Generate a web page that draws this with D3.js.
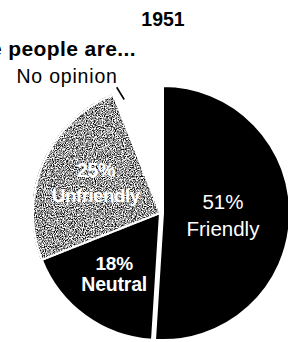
<!DOCTYPE html>
<html>
<head>
<meta charset="utf-8">
<script src="https://cdn.jsdelivr.net/npm/d3@7"></script>
<style>
  html, body { margin: 0; padding: 0; background: #fff; overflow: hidden; }
  svg { display: block; font-family: "Liberation Sans", Arial, Helvetica, sans-serif; }
</style>
</head>
<body>
<svg id="chart" width="288" height="342"></svg>
<script>
// ---- data ----
const categories = ["Friendly", "Neutral", "Unfriendly", "No opinion"];
const values = [51, 18, 25, 6];
const valueLabels = ["51%", "18%", "25%", ""];
const title = "1951";
const subtitle = "The people are...";

// ---- layout / style ----
const W = 288, H = 342;
const cx = 160, cy = 213, R = 127;
const fills = ["#000", "#000", "#fff", "#fff"];
const labelRadius = [60, 78, 70, 0];
const labelStyle = [
  { size1: 20.5, size2: 20.5, weight: 400, gap: 27, up: 6, ls: 0 },
  { size1: 19, size2: 19.5, weight: 700, gap: 21, up: 6, ls: -0.2 },
  { size1: 20, size2: 19, weight: 700, gap: 25, up: 8, ls: -0.6 },
  null
];
const explode = [3, 0, 0, 0];

const svg = d3.select("#chart");
const defs = svg.append("defs");

// grainy grey texture for the Unfriendly slice
const f = defs.append("filter").attr("id", "halftone")
  .attr("x", 0).attr("y", 0).attr("width", 1).attr("height", 1)
  .attr("color-interpolation-filters", "sRGB");
f.append("feTurbulence").attr("type", "fractalNoise").attr("baseFrequency", 0.9)
  .attr("numOctaves", 2).attr("seed", 5).attr("result", "noise");
f.append("feColorMatrix").attr("in", "noise").attr("type", "matrix")
  .attr("values", "2.6 0 0 0 -0.7  2.6 0 0 0 -0.7  2.6 0 0 0 -0.7  0 0 0 0 1").attr("result", "g");
f.append("feComposite").attr("in", "g").attr("in2", "SourceAlpha").attr("operator", "in");

const pie = d3.pie().sort(null).value(d => d).startAngle(0).endAngle(2 * Math.PI);
const arcs = pie(values);
const arc = d3.arc().innerRadius(0).outerRadius(R);

const g = svg.append("g").attr("transform", `translate(${cx},${cy})`);

arcs.forEach((a, i) => {
  const mid = (a.startAngle + a.endAngle) / 2;
  const dx = Math.sin(mid) * explode[i], dy = -Math.cos(mid) * explode[i];
  const p = g.append("path")
    .attr("d", arc(a))
    .attr("transform", `translate(${dx},${dy})`)
    .attr("fill", fills[i])
    .attr("stroke", "#fff").attr("stroke-width", i === 3 ? 0 : 2)
    .attr("stroke-linejoin", "round");
  if (i === 2) {
    p.attr("filter", "url(#halftone)");
    g.append("path").attr("d", arc(a)).attr("fill", "none")
      .attr("stroke", "#fff").attr("stroke-width", 2);
  }
});

// slice labels
arcs.forEach((a, i) => {
  const st = labelStyle[i];
  if (!st) return;
  const mid = (a.startAngle + a.endAngle) / 2;
  const x = Math.sin(mid) * (labelRadius[i] + explode[i]);
  const y = -Math.cos(mid) * labelRadius[i];
  const t = g.append("g").attr("transform", `translate(${x},${y})`)
    .attr("fill", "#fff")
    .attr("text-anchor", "middle").attr("font-weight", st.weight)
    .attr("letter-spacing", st.ls);
  t.append("text").attr("y", -st.up).attr("font-size", st.size1).text(valueLabels[i]);
  t.append("text").attr("y", -st.up + st.gap).attr("font-size", st.size2).text(categories[i]);
});

// "No opinion" label with leader tick
const no = arcs[3];
const span = no.endAngle - no.startAngle;
const aIn = no.startAngle + 0.19 * span, aOut = no.startAngle + 0.12 * span;
const p1 = [Math.sin(aIn) * 119, -Math.cos(aIn) * 119];
const p2 = [Math.sin(aOut) * 133, -Math.cos(aOut) * 133];
g.append("line").attr("x1", p1[0]).attr("y1", p1[1]).attr("x2", p2[0]).attr("y2", p2[1])
  .attr("stroke", "#000").attr("stroke-width", 1.6);
g.append("text").attr("x", p2[0] + 1).attr("y", p2[1] - 4.5)
  .attr("text-anchor", "end").attr("font-size", 19.5).attr("letter-spacing", 0.8)
  .attr("fill", "#000").text(categories[3]);

// titles
svg.append("text").attr("x", 163).attr("y", 26).attr("text-anchor", "middle")
  .attr("font-size", 19.5).attr("font-weight", 700).text(title);
svg.append("text").attr("x", 136).attr("y", 56).attr("text-anchor", "end")
  .attr("font-size", 21).attr("font-weight", 700).attr("letter-spacing", 0.4).text(subtitle);
</script>
</body>
</html>
